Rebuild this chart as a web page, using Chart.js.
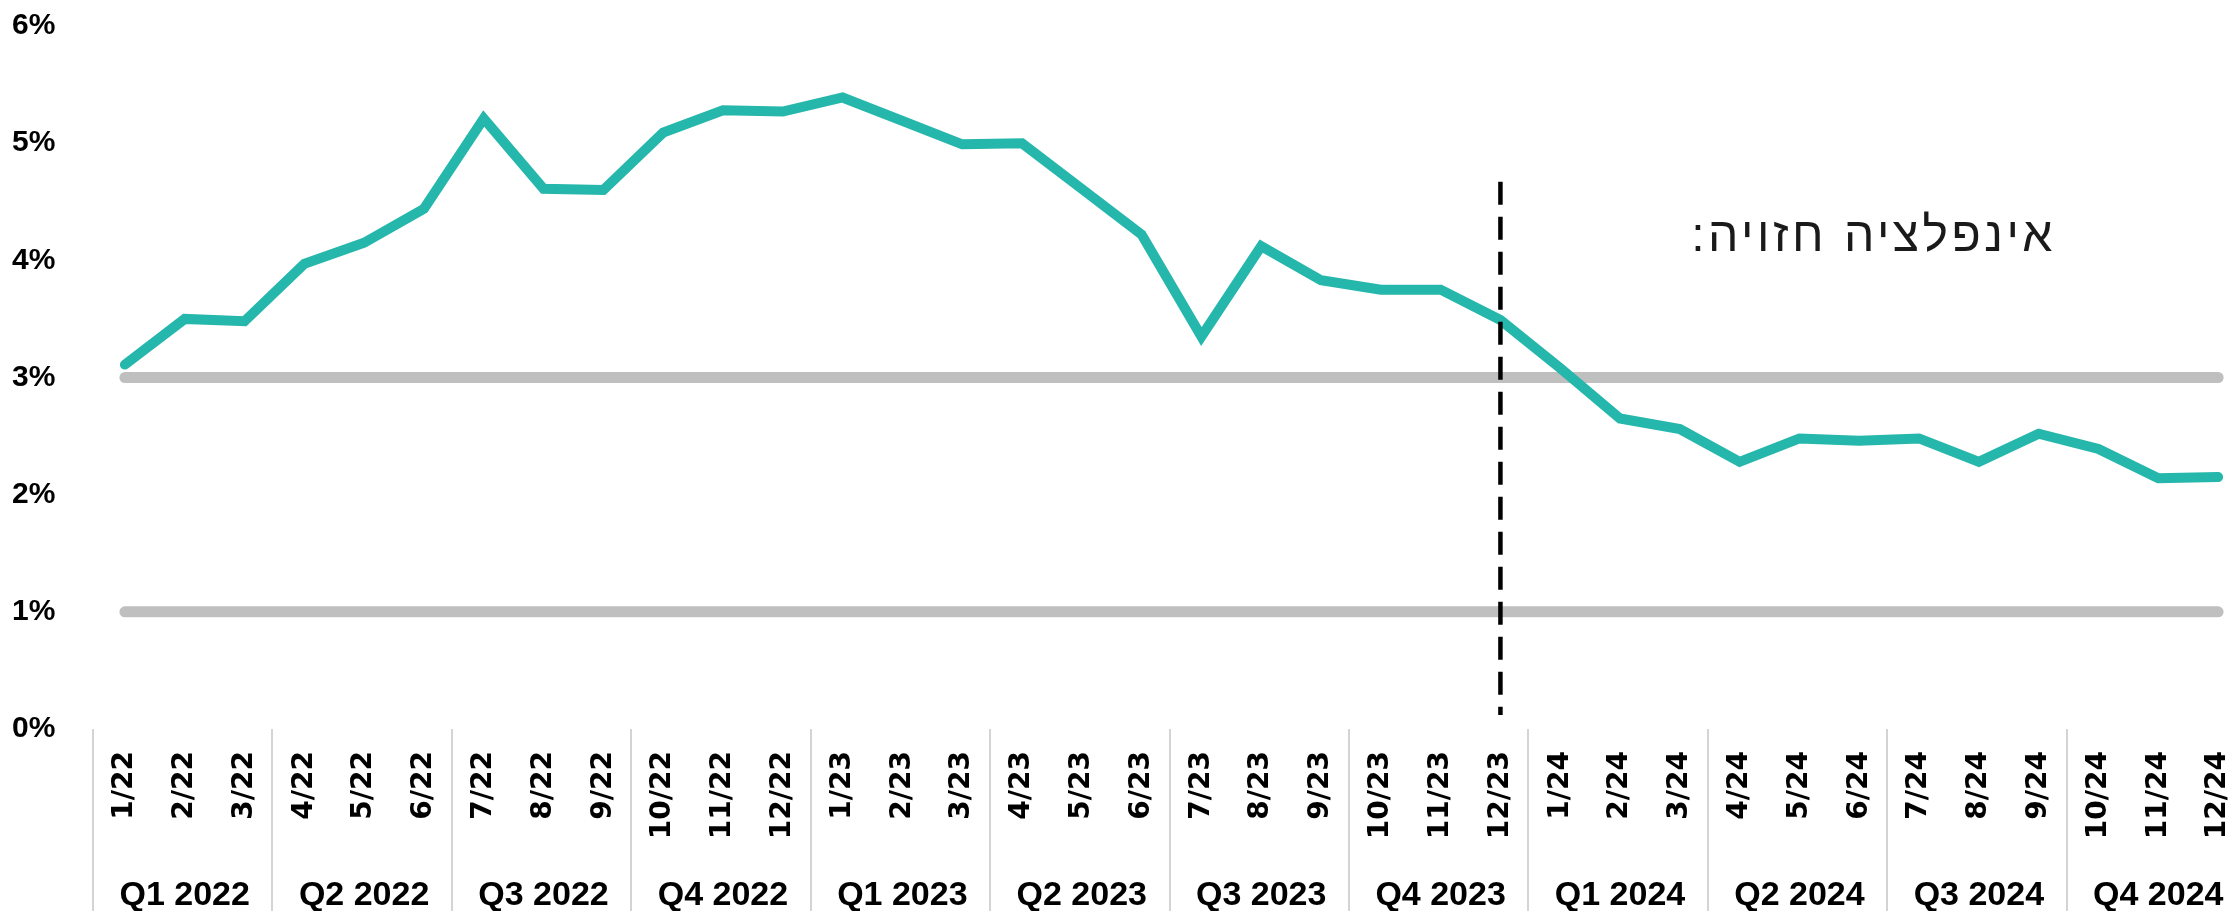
<!DOCTYPE html>
<html><head><meta charset="utf-8">
<script src="https://cdn.jsdelivr.net/npm/chart.js@4.4.0/dist/chart.umd.min.js"></script>
<style>
html,body{margin:0;padding:0;background:#fff;overflow:hidden;width:2228px;height:911px;position:relative;}
#wrap{position:absolute;left:0;top:0;width:2260px;height:911px;}
#note{position:absolute;right:172px;top:211px;font-family:'Liberation Sans',sans-serif;font-size:48px;line-height:48px;letter-spacing:3.5px;color:#1a1a1a;white-space:nowrap;direction:rtl;}
</style></head><body>
<div id="wrap"><canvas id="c" width="2260" height="911"></canvas></div>
<div id="note" dir="rtl">אינפלציה חזויה:</div>
<script>
const months = ['1/22','2/22','3/22','4/22','5/22','6/22','7/22','8/22','9/22','10/22','11/22','12/22',
  '1/23','2/23','3/23','4/23','5/23','6/23','7/23','8/23','9/23','10/23','11/23','12/23',
  '1/24','2/24','3/24','4/24','5/24','6/24','7/24','8/24','9/24','10/24','11/24','12/24'];
const quarters = ['Q1 2022','Q2 2022','Q3 2022','Q4 2022','Q1 2023','Q2 2023','Q3 2023','Q4 2023',
  'Q1 2024','Q2 2024','Q3 2024','Q4 2024'];
const inflation = [3.11,3.50,3.48,3.97,4.15,4.44,5.21,4.61,4.60,5.09,5.28,5.27,
  5.39,5.19,4.99,5.00,4.61,4.22,3.35,4.12,3.83,3.75,3.75,3.49,
  3.08,2.65,2.56,2.28,2.48,2.46,2.48,2.28,2.52,2.39,2.14,2.15];
const targetRange = [1, 3];
const forecastStart = '12/23';
const forecastSpan = [0.12, 4.67];
const yTicks = [0,1,2,3,4,5,6];

const FONT = "'Liberation Sans', Arial, sans-serif";
const MONTH_FONT = "'DejaVu Sans', 'Liberation Sans', sans-serif";

const dividerPlugin = {
  id: 'dividers',
  afterDraw(chart) {
    const xs = chart.scales.x, c = chart.ctx;
    c.save();
    c.strokeStyle = '#d4d4d4';
    c.lineWidth = 2;
    for (let q = 0; q <= quarters.length; q++) {
      const x = Math.round(xs.getPixelForValue(q * 3 - 0.5)) - 2;
      c.beginPath();
      c.moveTo(x, chart.chartArea.bottom);
      c.lineTo(x, chart.height);
      c.stroke();
    }
    c.restore();
  }
};

function noPad(s) { s.paddingLeft = 0; s.paddingRight = 0; }

new Chart(document.getElementById('c'), {
  type: 'line',
  data: {
    labels: months,
    datasets: [
      { label: 'forecast', data: [{x: forecastStart, y: forecastSpan[1]}, {x: forecastStart, y: forecastSpan[0]}],
        borderColor: '#000', borderWidth: 4.5, borderDash: [23, 12], pointRadius: 0, order: 0 },
      { label: 'inflation', data: inflation, borderColor: '#25b7ab', borderWidth: 10,
        borderCapStyle: 'round', borderJoinStyle: 'miter', pointRadius: 0, tension: 0, order: 1 },
      { label: 'upper', data: [{x: months[0], y: targetRange[1]}, {x: months[months.length-1], y: targetRange[1]}],
        borderColor: '#bfbfbf', borderWidth: 11, borderCapStyle: 'round', pointRadius: 0, order: 2 },
      { label: 'lower', data: [{x: months[0], y: targetRange[0]}, {x: months[months.length-1], y: targetRange[0]}],
        borderColor: '#bfbfbf', borderWidth: 11, borderCapStyle: 'round', pointRadius: 0, order: 2 }
    ]
  },
  options: {
    responsive: false, animation: false, events: [],
    layout: { padding: { left: 12, right: 12, top: 26, bottom: 0 } },
    plugins: { legend: { display: false }, tooltip: { enabled: false } },
    scales: {
      y: {
        min: yTicks[0], max: yTicks[yTicks.length-1],
        afterBuildTicks(s) { s.ticks = yTicks.map(v => ({value: v})); },
        ticks: { callback: v => v + '%', font: { family: FONT, size: 30, weight: 'bold' }, color: '#000', crossAlign: 'far', padding: 0 },
        grid: { display: false, drawTicks: false }, border: { display: false },
        afterFit(s) { s.width = 83; }
      },
      x: {
        type: 'category', offset: true,
        ticks: { autoSkip: false, minRotation: 90, maxRotation: 90, padding: 22,
          font: { family: MONTH_FONT, size: 28, weight: 'bold' }, color: '#000' },
        grid: { display: false, drawTicks: false }, border: { display: false },
        afterFit(s) { s.height = 135; noPad(s); }
      },
      x2: {
        type: 'category', labels: quarters, position: 'bottom', offset: true,
        ticks: { autoSkip: false, minRotation: 0, maxRotation: 0, padding: 11,
          font: { family: FONT, size: 34, weight: 'bold' }, color: '#000' },
        grid: { display: false, drawTicks: false }, border: { display: false },
        afterFit(s) { s.height = 47; noPad(s); }
      }
    }
  },
  plugins: [dividerPlugin]
});
</script>
</body></html>
